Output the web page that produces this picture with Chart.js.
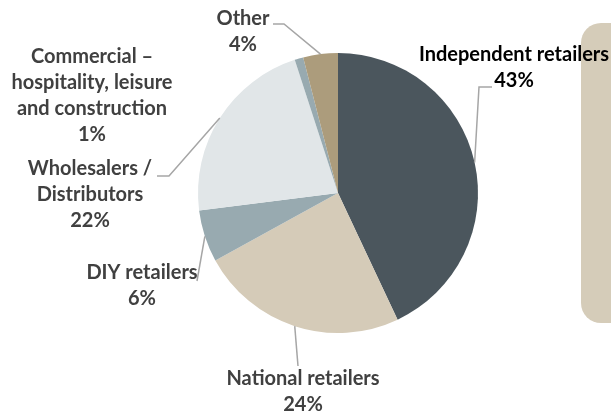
<!DOCTYPE html>
<html>
<head>
<meta charset="utf-8">
<script src="https://cdn.jsdelivr.net/npm/chart.js@4/dist/chart.umd.min.js"></script>
<style>
  html, body { margin: 0; padding: 0; background: #ffffff; }
  #wrap { position: relative; width: 611px; height: 414px; }
</style>
</head>
<body>
<div id="wrap"><canvas id="pie" width="611" height="414"></canvas></div>
<script>
// Sales channel split (share of total, %)
const categories = [
  ['Independent retailers'],
  ['National retailers'],
  ['DIY retailers'],
  ['Wholesalers /', 'Distributors'],
  ['Commercial –', 'hospitality, leisure', 'and construction'],
  ['Other']
];
const shares = [43, 24, 6, 22, 1, 4];
const sliceColors = ['#4b565d', '#d5cbb8', '#98aab0', '#e1e6e8', '#98aab0', '#ac9c7c'];

// Label placement: text centre, first line y, and leader elbow / end points
const labelLayout = [
  { x: 514, y: 55,  color: '#000000', elbow: [479, 87],  end: [492, 87] },
  { x: 303, y: 379, color: '#404040', elbow: [298, 366], end: null },
  { x: 142, y: 273, color: '#404040', elbow: [197, 281], end: null },
  { x: 90,  y: 169, color: '#404040', elbow: [169, 176], end: [157, 176] },
  { x: 92,  y: 57,  color: '#404040', elbow: null,       end: null },
  { x: 243, y: 19,  color: '#404040', elbow: [284, 24],  end: [273, 24] }
];

// Rounded panel on the right side of the slide
const panelPlugin = {
  id: 'panel',
  beforeDatasetsDraw(chart) {
    const ctx = chart.ctx;
    const x = 581, y = 23, w = 60, h = 300, r = 20;
    ctx.save();
    ctx.fillStyle = '#d5ccb9';
    ctx.beginPath();
    ctx.moveTo(x + r, y);
    ctx.lineTo(x + w, y);
    ctx.lineTo(x + w, y + h);
    ctx.lineTo(x + r, y + h);
    ctx.arcTo(x, y + h, x, y + h - r, r);
    ctx.lineTo(x, y + r);
    ctx.arcTo(x, y, x + r, y, r);
    ctx.closePath();
    ctx.fill();
    ctx.restore();
  }
};

// Category names and percentages with leader lines to the slices
const calloutPlugin = {
  id: 'callouts',
  afterDatasetsDraw(chart) {
    const ctx = chart.ctx;
    const meta = chart.getDatasetMeta(0);
    const values = chart.data.datasets[0].data;
    const lineH = 26;
    ctx.save();
    meta.data.forEach((arc, i) => {
      const p = arc.getProps(['x', 'y', 'startAngle', 'endAngle', 'outerRadius'], true);
      const mid = (p.startAngle + p.endAngle) / 2;
      const ax = p.x + Math.cos(mid) * p.outerRadius;
      const ay = p.y + Math.sin(mid) * p.outerRadius;
      const L = labelLayout[i];
      if (L.elbow) {
        ctx.strokeStyle = '#a6a6a6';
        ctx.lineWidth = 1.5;
        ctx.beginPath();
        ctx.moveTo(ax, ay);
        ctx.lineTo(L.elbow[0], L.elbow[1]);
        if (L.end) ctx.lineTo(L.end[0], L.end[1]);
        ctx.stroke();
      }
      const lines = chart.data.labels[i].concat([values[i] + '%']);
      ctx.fillStyle = L.color;
      ctx.font = 'bold 20px Lato, "Liberation Sans", sans-serif';
      ctx.textAlign = 'center';
      ctx.textBaseline = 'middle';
      lines.forEach((t, k) => ctx.fillText(t, L.x, L.y + k * lineH));
    });
    ctx.restore();
  }
};

new Chart(document.getElementById('pie'), {
  type: 'pie',
  data: {
    labels: categories,
    datasets: [{
      data: shares,
      backgroundColor: sliceColors,
      borderWidth: 0
    }]
  },
  options: {
    responsive: false,
    animation: false,
    layout: { padding: { left: 198, right: 133, top: 53, bottom: 81 } },
    plugins: {
      legend: { display: false },
      tooltip: { enabled: false }
    }
  },
  plugins: [panelPlugin, calloutPlugin]
});
</script>
</body>
</html>
